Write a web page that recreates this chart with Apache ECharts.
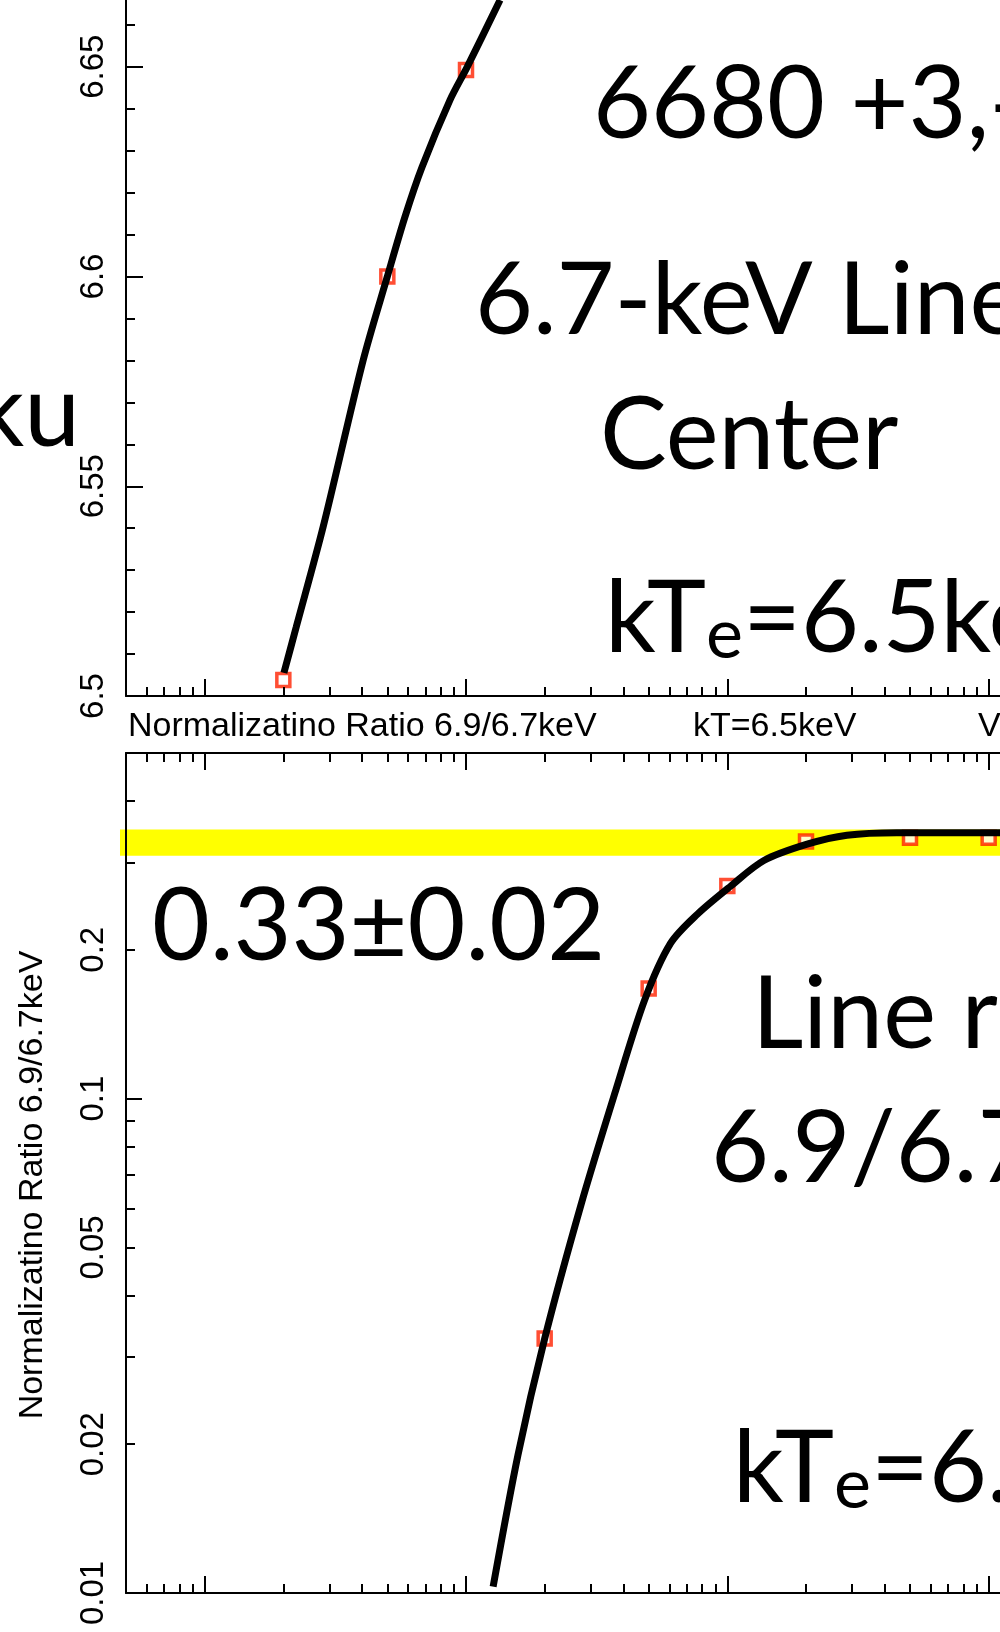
<!DOCTYPE html>
<html>
<head>
<meta charset="utf-8">
<script src="https://cdn.jsdelivr.net/npm/echarts@6/dist/echarts.min.js"></script>
<style>
html, body { margin: 0; padding: 0; background: #fff; }
#chart { width: 1000px; height: 1632px; }
</style>
</head>
<body>
<div id="chart"></div>
<script>
// shared log x axis (net), decade and 2..9 ticks
var xMajorTicks = [1e10, 1e11, 1e12, 1e13];
var xMinorTicks = [6e9, 7e9, 8e9, 9e9,
    2e10, 3e10, 4e10, 5e10, 6e10, 7e10, 8e10, 9e10,
    2e11, 3e11, 4e11, 5e11, 6e11, 7e11, 8e11, 9e11,
    2e12, 3e12, 4e12, 5e12, 6e12, 7e12, 8e12, 9e12,
    2e13, 3e13, 4e13, 5e13, 6e13, 7e13, 8e13, 9e13];

// top panel: 6.7 keV line center
var netTop = [2e10, 5e10, 1e11];
var centerTop = [6.5038, 6.600, 6.6492];
var curveTopX = [2.01e10, 2.24e10, 2.84e10, 4.04e10, 4.99e10, 5.84e10, 6.79e10, 8.69e10, 1.01e11, 1.35e11];
var curveTopY = [6.5055, 6.5164, 6.5403, 6.580, 6.5998, 6.6142, 6.6261, 6.6421, 6.6499, 6.6659];

// bottom panel: 6.9/6.7 keV ratio
var netBot = [2e11, 5e11, 1e12, 2e12, 5e12, 1e13];
var ratioBot = [0.0327, 0.167, 0.269, 0.331, 0.337, 0.337];
var curveBotX = [1.27e11, 1.58e11, 2.0e11, 2.75e11, 3.7e11, 4.82e11, 6.06e11, 7.68e11, 1.03e12, 1.38e12, 2.02e12, 2.87e12, 4.45e12, 1.07e13, 1.2e13];
var curveBotY = [0.0103, 0.019, 0.0327, 0.0608, 0.102, 0.158, 0.206, 0.236, 0.269, 0.303, 0.327, 0.341, 0.345, 0.345, 0.345];
var ratioBand = [0.31, 0.35]; // 0.33 +- 0.02

var yBotMajor = [0.01, 0.1];
var yBotMinor = [0.02, 0.03, 0.04, 0.05, 0.06, 0.07, 0.08, 0.09, 0.2, 0.3, 0.4];
var yBotLabels = [0.01, 0.02, 0.05, 0.1, 0.2];

function zip(a, b) {
    var out = [];
    for (var i = 0; i < a.length; i++) out.push([a[i], b[i]]);
    return out;
}

var black = '#000';
var red = '#ff2200';
var labelFont = { color: black, fontSize: 33, fontFamily: 'Liberation Sans' };

function xAxisFor(grid, pos, ticks, len, showLine) {
    return {
        type: 'log', gridIndex: grid, position: pos, min: 5e9, max: 1e14, z: 10,
        axisLine: { show: showLine, lineStyle: { color: black, width: 2 } },
        axisTick: { show: true, inside: true, length: len, customValues: ticks, lineStyle: { color: black, width: 2 } },
        axisLabel: { show: false },
        splitLine: { show: false }
    };
}

var big = { fontFamily: 'Lato', fontSize: 100, fill: black, verticalAlign: 'middle' };
function bigText(txt, x, y, align) {
    return { type: 'text', x: x, y: y, z: 50,
        style: Object.assign({ text: txt, align: align || 'left' }, big) };
}
function kTeText(x, y) {
    return { type: 'text', x: x, y: y, z: 50,
        style: {
            text: '{m|kT}{s|e}{m|=6.5keV}', align: 'left', verticalAlign: 'middle',
            rich: {
                m: { fontFamily: 'Lato', fontSize: 100, lineHeight: 100, verticalAlign: 'bottom', color: black },
                s: { fontFamily: 'Lato', fontSize: 70, lineHeight: 66, verticalAlign: 'bottom', color: black }
            }
        } };
}

var titleStyle = { fontFamily: 'Liberation Sans', fontSize: 34, fontWeight: 'normal', color: black };

var option = {
    backgroundColor: '#fff',
    animation: false,
    title: [
        { text: 'Normalizatino Ratio 6.9/6.7keV', left: 128, top: 710, padding: 0, textStyle: titleStyle },
        { text: 'kT=6.5keV', left: 693, top: 710, padding: 0, textStyle: titleStyle },
        { text: 'V', left: 978, top: 710, padding: 0, textStyle: titleStyle }
    ],
    grid: [
        { left: 126, right: -250, top: -143, bottom: 936, containLabel: false, outerBoundsMode: 'none' },
        { left: 126, right: -250, top: 753, bottom: 39, containLabel: false, outerBoundsMode: 'none' }
    ],
    xAxis: [
        xAxisFor(0, 'bottom', xMajorTicks, 17, true),
        xAxisFor(0, 'bottom', xMinorTicks, 9, false),
        xAxisFor(1, 'top', xMajorTicks, 17, true),
        xAxisFor(1, 'top', xMinorTicks, 9, false),
        xAxisFor(1, 'bottom', xMajorTicks, 17, true),
        xAxisFor(1, 'bottom', xMinorTicks, 9, false)
    ],
    yAxis: [
        {
            type: 'value', gridIndex: 0, position: 'left', min: 6.5, max: 6.7, interval: 0.05, z: 10,
            axisLine: { show: true, lineStyle: { color: black, width: 2 } },
            axisTick: { inside: true, length: 17, lineStyle: { color: black, width: 2 } },
            minorTick: { show: true, splitNumber: 5, length: 9, lineStyle: { color: black, width: 2 } },
            axisLabel: Object.assign({ rotate: 90, margin: 16 }, labelFont),
            splitLine: { show: false }
        },
        {
            type: 'log', gridIndex: 1, position: 'left', min: 0.01, max: 0.5, z: 10,
            axisLine: { show: true, lineStyle: { color: black, width: 2 } },
            axisTick: { inside: true, length: 16, customValues: yBotMajor, lineStyle: { color: black, width: 2 } },
            axisLabel: Object.assign({
                rotate: 90, margin: 16, customValues: yBotLabels,
                formatter: function (v) { return String(parseFloat(Number(v).toPrecision(3))); }
            }, labelFont),
            splitLine: { show: false },
            name: 'Normalizatino Ratio 6.9/6.7keV', nameLocation: 'middle', nameRotate: 90, nameGap: 76,
            nameTextStyle: { color: black, fontSize: 34, fontFamily: 'Liberation Sans', padding: [0, 24, 0, 0] }
        },
        {
            type: 'log', gridIndex: 1, position: 'left', min: 0.01, max: 0.5, z: 10,
            axisLine: { show: false },
            axisTick: { inside: true, length: 9, customValues: yBotMinor, lineStyle: { color: black, width: 2 } },
            axisLabel: { show: false },
            splitLine: { show: false }
        }
    ],
    series: [
        {
            type: 'line', xAxisIndex: 0, yAxisIndex: 0, z: 4,
            data: zip(curveTopX, curveTopY), smooth: 0.3, showSymbol: false,
            lineStyle: { color: black, width: 7 }
        },
        {
            type: 'scatter', xAxisIndex: 0, yAxisIndex: 0, z: 3,
            data: zip(netTop, centerTop), symbol: 'rect', symbolSize: 13,
            itemStyle: { color: '#fff', borderColor: red, borderWidth: 3.5 }
        },
        {
            type: 'custom', xAxisIndex: 4, yAxisIndex: 1, z: 1, silent: true,
            data: [[5e9, ratioBand[0], ratioBand[1]]],
            renderItem: function (params, api) {
                var hi = api.coord([api.value(0), api.value(2)]);
                var lo = api.coord([api.value(0), api.value(1)]);
                var cs = params.coordSys;
                return {
                    type: 'rect',
                    shape: { x: cs.x - 6, y: hi[1], width: cs.width + 6, height: lo[1] - hi[1] },
                    style: { fill: '#ffff00' }
                };
            }
        },
        {
            type: 'line', xAxisIndex: 4, yAxisIndex: 1, z: 4,
            data: zip(curveBotX, curveBotY), smooth: 0.3, showSymbol: false,
            lineStyle: { color: black, width: 7 }
        },
        {
            type: 'scatter', xAxisIndex: 4, yAxisIndex: 1, z: 3,
            data: zip(netBot, ratioBot), symbol: 'rect', symbolSize: 13,
            itemStyle: { color: '#fff', borderColor: red, borderWidth: 3.5 }
        }
    ],
    graphic: [
        bigText('ku', 80, 414, 'right'),
        bigText('6680 +3,-', 593, 106),
        bigText('6.7-keV Line', 475, 302),
        bigText('Center', 600, 437),
        kTeText(605, 620),
        bigText('0.33\u00b10.02', 152, 928),
        bigText('Line ratio', 752, 1016),
        bigText('6.9/6.7keV', 711, 1150),
        kTeText(733, 1470)
    ]
};

var myChart = echarts.init(document.getElementById('chart'));
myChart.setOption(option);
</script>
</body>
</html>
